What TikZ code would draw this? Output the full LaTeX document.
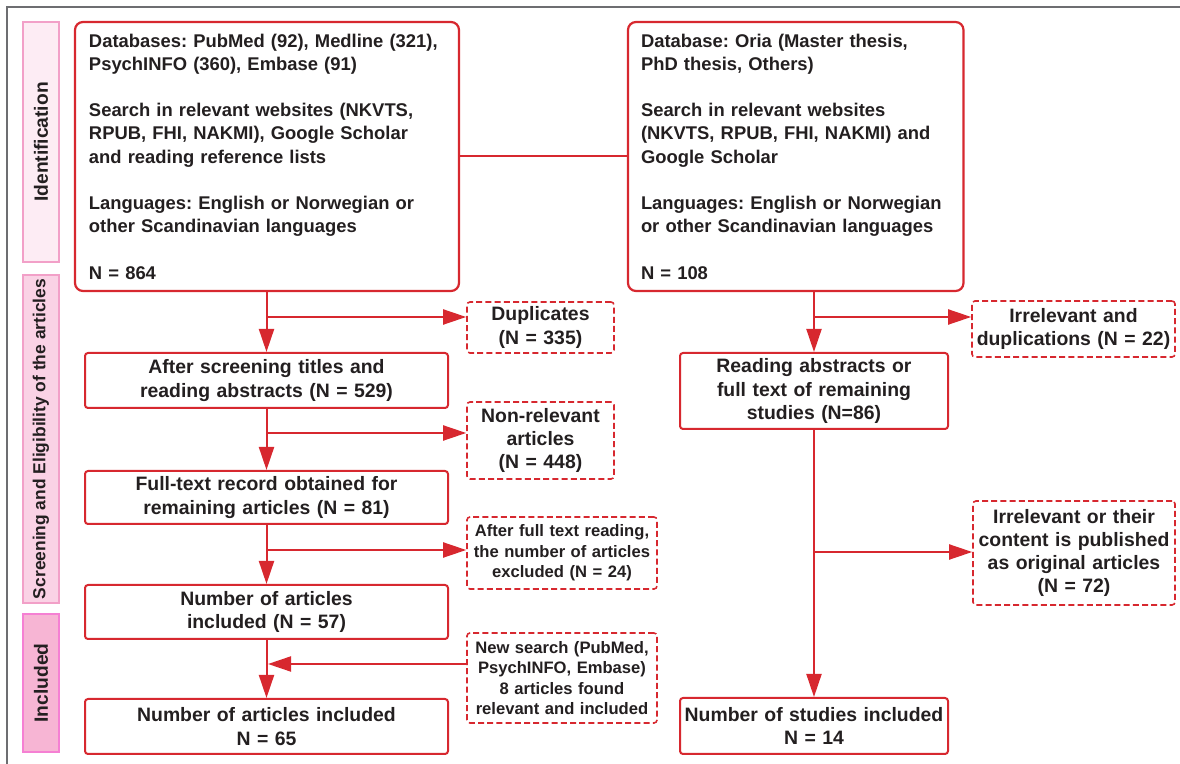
\documentclass[tikz,border=0pt]{standalone}
\usepackage{fontspec}
\setmainfont{Liberation Sans}
\usetikzlibrary{arrows.meta}
\frenchspacing
\hyphenpenalty=10000
\exhyphenpenalty=10000

\definecolor{flowred}{HTML}{D7282F}
\definecolor{txt}{HTML}{231F20}
\definecolor{framegray}{HTML}{6D6E71}
\definecolor{pinkline}{HTML}{F2A0C8}
\definecolor{pinkA}{HTML}{FDECF4}
\definecolor{pinkB}{HTML}{FAD2E5}
\definecolor{pinkC}{HTML}{F7B5D4}

\begin{document}
\begin{tikzpicture}[x=0.5pt, y=-0.5pt,
    % Styles
    source/.style={draw=flowred, line width=1.1pt, rounded corners=4pt, fill=white, text=txt, inner xsep=7pt, align=left, minimum height=134.5pt, font=\fontsize{9.2}{11.6}\selectfont\bfseries},
    stage/.style={draw=flowred, line width=1pt, rounded corners=1.5pt, fill=white, text=txt, inner xsep=2pt, inner ysep=0pt, align=center, font=\fontsize{9.7}{11.6}\selectfont\bfseries},
    excluded/.style={stage, line width=0.8pt, dash pattern=on 3pt off 1.6pt},
    small/.style={font=\fontsize{8.3}{10.3}\selectfont\bfseries},
    phase/.style={draw=pinkline, line width=0.8pt, rotate=90, minimum height=18pt, inner sep=0pt, text=txt, font=\fontsize{9.6}{11}\selectfont\bfseries},
    link/.style={flowred, line width=1pt},
    arrow/.style={link, -{Triangle[length=11.5pt, width=7.5pt]}},
    frame/.style={framegray, line width=0.8pt},
]
\useasboundingbox (0,0) rectangle (1180,764);

% Frame
\draw[frame] (7,764) -- (7,7) -- (1180,7);

% Phases
\node[phase, fill=pinkA, minimum width=120pt] (ident) at (41,142) {Identification};
\node[phase, fill=pinkB, minimum width=164pt, font=\fontsize{8.7}{10}\selectfont\bfseries] (screen) at (41,439) {Screening and Eligibility of the articles};
\node[phase, fill=pinkC, draw=pinkline!80!magenta, minimum width=69pt] (incl) at (41,683) {Included};

% Sources
\node[source, text width=178pt] (idL) at (267,156.5) {Databases: PubMed (92), Medline (321),\\
PsychINFO (360), Embase (91)\\[11.6pt]
Search in relevant websites (NKVTS,\\
RPUB, FHI, NAKMI), Google Scholar\\
and reading reference lists\\[11.6pt]
Languages: English or Norwegian or\\
other Scandinavian languages\\[11.6pt]
N = 864};

\node[source, text width=154.75pt, inner xsep=6.5pt] (idR) at (795.75,156.5) {Database: Oria (Master thesis,\\
PhD thesis, Others)\\[11.6pt]
Search in relevant websites\\
(NKVTS, RPUB, FHI, NAKMI) and\\
Google Scholar\\[11.6pt]
Languages: English or Norwegian\\
or other Scandinavian languages\\[11.6pt]
N = 108};
\draw[link] (idL) -- (idR);

% LEFT COLUMN: articles
\node[stage, text width=177.5pt, minimum height=27.5pt] (scr) at (266.5,380.5) {After screening titles and\\reading abstracts (N = 529)};
\node[stage, text width=177.5pt, minimum height=26.5pt] (full) at (266.5,497.5) {Full-text record obtained for\\remaining articles (N = 81)};
\node[stage, text width=177.5pt, minimum height=27pt] (incl57) at (266.5,612) {Number of articles\\included (N = 57)};
\node[stage, text width=177.5pt, minimum height=27.5pt] (incl65) at (266.5,726.5) {Number of articles included\\N = 65};

\node[excluded, text width=69.5pt, minimum height=25.5pt] (dup) at (540.5,327.5) {Duplicates\\(N = 335)};
\node[excluded, text width=69.5pt, minimum height=38.5pt] (nonrel) at (540.5,440.5) {Non-relevant\\articles\\(N = 448)};
\node[excluded, small, text width=91pt, minimum height=36pt] (excl) at (562,553) {After full text reading,\\the number of articles\\excluded (N = 24)};
\node[excluded, small, text width=91pt, minimum height=45pt] (newsr) at (562,678) {New search (PubMed,\\PsychINFO, Embase)\\8 articles found\\relevant and included};

\draw[arrow] (idL.south -| scr.north) -- (scr.north);
\coordinate (b1) at (266.5,317);
\draw[arrow] (b1) -- (b1 -| dup.west);
\draw[arrow] (scr) -- (full);
\coordinate (b2) at (266.5,433);
\draw[arrow] (b2) -- (b2 -| nonrel.west);
\draw[arrow] (full) -- (incl57);
\coordinate (b3) at (266.5,550);
\draw[arrow] (b3) -- (b3 -| excl.west);
\draw[arrow] (incl57) -- (incl65);
\coordinate (b4) at (268,664);
\draw[arrow] (b4 -| newsr.west) -- (b4);

% RIGHT COLUMN: theses and reports
\node[stage, text width=130pt, minimum height=38pt] (reading) at (814,391) {Reading abstracts or\\full text of remaining\\studies (N=86)};
\node[stage, text width=130pt, minimum height=28pt] (studies) at (814,726) {Number of studies included\\N = 14};

\node[excluded, text width=97.5pt, minimum height=28pt] (irrdup) at (1073.5,329) {Irrelevant and\\duplications (N = 22)};
\node[excluded, text width=97pt, minimum height=52pt] (irrpub) at (1074,553) {Irrelevant or their\\content is published\\as original articles\\(N = 72)};

\draw[arrow] (idR.south -| reading.north) -- (reading.north);
\coordinate (b5) at (814,317);
\draw[arrow] (b5) -- (b5 -| irrdup.west);
\draw[arrow] (reading) -- (studies);
\coordinate (b6) at (814,552);
\draw[arrow] (b6) -- (b6 -| irrpub.west);

\end{tikzpicture}
\end{document}
